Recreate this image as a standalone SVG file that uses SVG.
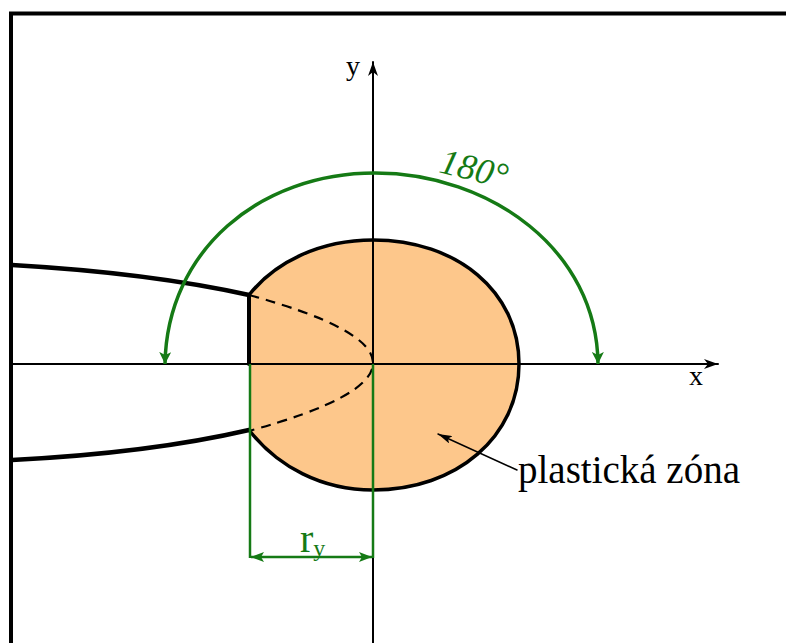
<svg xmlns="http://www.w3.org/2000/svg" width="786" height="643" viewBox="0 0 786 643">
  <style>
    .blk{fill:none;stroke:#000;stroke-linecap:round;stroke-linejoin:round}
    .grn{fill:none;stroke:#157a15}
    .lbl{fill:#000;font-family:"Liberation Serif","Times New Roman",serif}
    .glbl{fill:#157a15;font-family:"Liberation Serif","Times New Roman",serif}
  </style>
  <defs>
    <marker id="arrBlk" viewBox="0 0 14 10" refX="14" refY="5" markerWidth="14" markerHeight="10" markerUnits="userSpaceOnUse" orient="auto-start-reverse">
      <path d="M0,0 L14,5 L0,10 L4,5 Z" fill="#000"/>
    </marker>
    <marker id="arrPtr" viewBox="0 0 14 8" refX="14" refY="4" markerWidth="14" markerHeight="8" markerUnits="userSpaceOnUse" orient="auto-start-reverse">
      <path d="M0,0 L14,4 L0,8 L3,4 Z" fill="#000"/>
    </marker>
    <marker id="arrGrn" viewBox="0 0 12 12" refX="12" refY="6" markerWidth="12" markerHeight="12" markerUnits="userSpaceOnUse" orient="auto-start-reverse">
      <path d="M0,0 L12,6 L0,12 L3,6 Z" fill="#157a15"/>
    </marker>
    <marker id="arrDim" viewBox="0 0 13 10" refX="13" refY="5" markerWidth="13" markerHeight="10" markerUnits="userSpaceOnUse" orient="auto-start-reverse">
      <path d="M0,0 L13,5 L0,10 L3,5 Z" fill="#157a15"/>
    </marker>
  </defs>
  <rect width="786" height="643" fill="#fff"/>

  <g id="frame">
    <path d="M11,643 V13.5 H786" fill="none" stroke="#000" stroke-width="4"/>
  </g>

  <g id="plastic-zone">
    <path d="M249,295 C275,262 320,240 373,240 C457,240 519,291.5 519,364 C519,436.5 457,490 373,490 C322,490 278,467 249,430 Z" fill="#fdc78b" stroke="none"/>
  </g>

  <g id="axes">
    <line class="blk" x1="12" y1="364" x2="718" y2="364" stroke-width="2" marker-end="url(#arrBlk)"/>
    <line class="blk" x1="373" y1="643" x2="373" y2="62" stroke-width="2" marker-end="url(#arrBlk)"/>
    <text class="lbl" x="346" y="75" font-size="28">y</text>
    <text class="lbl" x="689" y="385" font-size="28">x</text>
  </g>

  <g id="zone-outline">
    <path class="blk" d="M249,295 C275,262 320,240 373,240 C457,240 519,291.5 519,364 C519,436.5 457,490 373,490 C322,490 278,467 249,430" stroke-width="3.5"/>
    <line class="blk" x1="249" y1="295" x2="249" y2="364" stroke-width="4"/>
  </g>

  <g id="crack">
    <path class="blk" d="M12,265 Q150,273 249,295" stroke-width="4.5"/>
    <path class="blk" d="M12,460 Q150,453 249,430" stroke-width="4.5"/>
    <path d="M249,295 Q497,363 249,431" fill="none" stroke="#000" stroke-width="2.2" stroke-dasharray="10 7"/>
  </g>

  <g id="connectors">
    <path class="grn" d="M165,364 C167,250 260,173 375,173 C490,173 597,250 598,364" stroke-width="3.5" marker-start="url(#arrGrn)" marker-end="url(#arrGrn)"/>
    <line class="grn" x1="250" y1="364" x2="250" y2="558" stroke-width="2.5"/>
    <line class="grn" x1="373" y1="364" x2="373" y2="558" stroke-width="2.5"/>
    <line class="grn" x1="251" y1="557" x2="372" y2="557" stroke-width="2.5" marker-start="url(#arrDim)" marker-end="url(#arrDim)"/>
    <line class="blk" x1="517" y1="470" x2="438" y2="434" stroke-width="1.5" marker-end="url(#arrPtr)"/>
  </g>

  <g id="labels">
    <text class="glbl" x="438" y="172" font-size="36" font-style="italic" transform="rotate(14 438 172)">180°</text>
    <text class="glbl" x="300" y="552" font-size="40">r<tspan font-size="24" dy="4">y</tspan></text>
    <text class="lbl" x="518" y="483" font-size="39">plastická zóna</text>
  </g>
</svg>
